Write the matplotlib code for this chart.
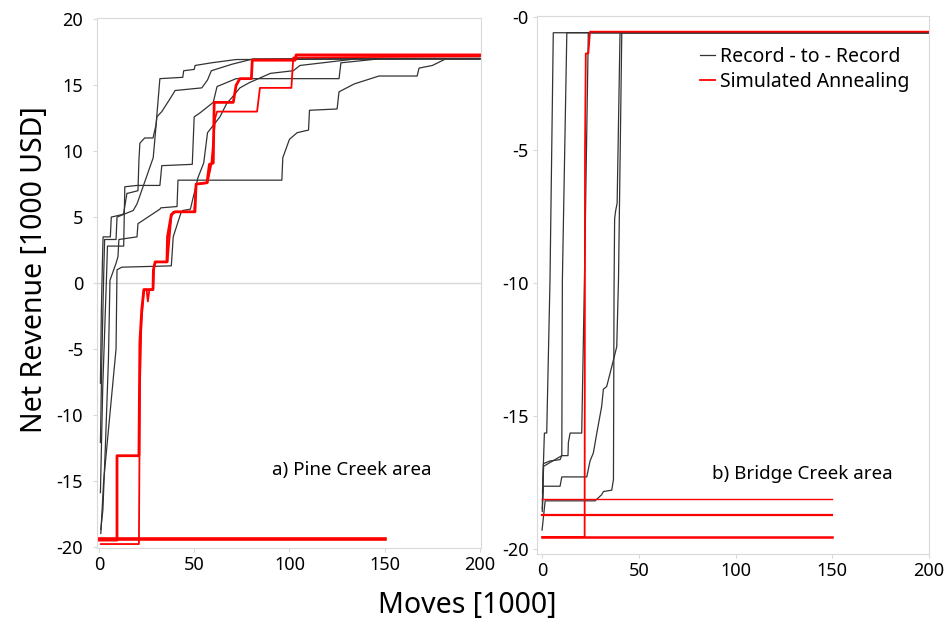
import numpy as np
import matplotlib
matplotlib.use("Agg")
import matplotlib.pyplot as plt

plt.rcParams['font.family'] = ['Noto Sans', 'DejaVu Sans']

# ---- a) Pine Creek: record-to-record runs (moves in 1000, revenue in 1000 USD)
pc_rr_x = [
    [0.8, 1.3, 2.0, 2.2, 6.0, 6.5, 12.5, 13.0, 14.7, 15.0, 20.5, 21.0, 21.5, 24.0, 28.4, 30.0, 32.0, 44.0, 44.5, 50.0, 50.5, 59.0, 72.0, 200],
    [0.8, 1.5, 2.5, 3.0, 9.0, 9.5, 18.0, 20.0, 28.0, 28.5, 30.4, 33.0, 37.0, 40.0, 54.0, 57.0, 59.0, 70.0, 81.0, 200],
    [0.8, 2.0, 4.0, 4.5, 13.0, 13.6, 20.0, 32.0, 33.0, 49.0, 50.0, 53.0, 60.0, 62.0, 72.0, 126.0, 127.0, 147.0, 200],
    [1.0, 2.1, 3.5, 5.0, 5.8, 9.0, 10.0, 10.5, 20.0, 20.5, 32.0, 32.5, 41.0, 41.5, 96.0, 96.5, 100.0, 104.0, 110.0, 110.5, 125.0, 126.0, 134.0, 147.0, 167.0, 168.0, 175.0, 182.0, 200],
    [1.0, 2.5, 9.0, 9.5, 12.0, 38.0, 39.0, 43.0, 44.0, 48.0, 52.0, 55.0, 57.0, 63.5, 67.0, 70.0, 74.0, 79.0, 90.0, 102.0, 105.5, 135.0, 200],
]
pc_rr_y = [
    [-7.6, -2.0, 2.5, 3.5, 3.5, 5.0, 5.2, 5.3, 6.8, 6.8, 7.0, 9.3, 10.6, 11.0, 11.0, 12.0, 15.5, 15.6, 16.1, 16.2, 16.5, 16.7, 16.95, 17.0],
    [-12.1, -6.0, 0.5, 3.3, 3.3, 5.0, 5.5, 6.0, 9.3, 9.5, 12.6, 13.0, 13.9, 14.6, 14.8, 15.4, 16.1, 16.6, 17.0, 17.05],
    [-15.9, -8.0, 0.5, 2.8, 2.8, 7.3, 7.4, 7.4, 8.9, 9.0, 12.6, 12.9, 13.7, 14.9, 15.5, 15.5, 16.7, 17.0, 17.0],
    [-18.7, -17.2, -12.0, -5.8, 0.2, 1.5, 2.0, 3.3, 3.5, 4.5, 5.6, 5.7, 5.8, 7.8, 7.8, 9.5, 10.9, 11.4, 11.6, 13.1, 13.2, 14.5, 15.1, 15.7, 15.7, 16.3, 16.5, 17.0, 17.0],
    [-19.0, -15.0, -5.0, 1.0, 1.2, 1.3, 3.5, 5.3, 5.5, 5.6, 8.0, 9.1, 11.4, 12.6, 13.6, 14.1, 14.8, 15.2, 15.9, 16.1, 16.5, 17.0, 17.0],
]
# simulated annealing runs
pc_sa_x = [
    [0, 9.5, 9.5, 21, 21.5, 22.5, 23.6, 28.4, 28.6, 29.5, 35.7, 36, 38, 40, 50.4, 51, 56.7, 58, 60, 60.5, 70.5, 72, 74, 80, 80.5, 103, 103.5, 200],
    [1, 21, 21.5, 22.3, 23.6, 25, 25.7, 26.5, 28.4, 29, 30, 36, 38, 39, 50, 51, 57, 59, 61, 62, 83, 84.5, 101, 102, 200],
    [0, 150],
]
pc_sa_y = [
    [-19.5, -19.5, -13.1, -13.1, -4.5, -2.0, -0.5, -0.5, 1.0, 1.6, 1.6, 3.5, 5.2, 5.4, 5.4, 7.5, 7.6, 9.0, 9.1, 13.7, 13.7, 15.0, 15.5, 15.5, 16.9, 16.9, 17.3, 17.3],
    [-19.8, -19.8, -8.0, -3.0, -0.5, -0.5, -1.4, -0.5, -0.5, 1.3, 1.6, 1.6, 5.0, 5.4, 5.4, 7.5, 7.6, 9.0, 12.5, 13.0, 13.0, 14.8, 14.8, 17.1, 17.2],
    [-19.45, -19.45],
]
pc_sa_lw = [2.0, 1.3, 2.6]

# ---- b) Bridge Creek
bc_rr_x = [
    [0.2, 0.7, 1.2, 2.4, 4.1, 5.8, 200],
    [0.1, 0.7, 4.1, 9.3, 10.2, 10.5, 12.8, 200],
    [0.2, 0.8, 10.2, 13.4, 13.6, 14.5, 20.5, 21.9, 23.9, 200],
    [0.1, 0.7, 9.3, 10.2, 23.1, 24.8, 26.5, 28.3, 30.8, 31.7, 33.4, 36.9, 38.6, 39.5, 41.2, 200],
    [0.0, 1.6, 27.4, 30.8, 31.7, 36.0, 36.9, 37.2, 37.5, 38.0, 38.8, 40.3, 200],
]
bc_rr_y = [
    [-17.9, -16.8, -15.65, -15.65, -9.9, -0.59, -0.59],
    [-18.5, -16.8, -16.7, -16.65, -16.5, -9.9, -0.59, -0.59],
    [-18.2, -16.9, -16.5, -16.5, -16.0, -15.65, -15.65, -9.9, -0.59, -0.59],
    [-18.6, -17.65, -17.65, -17.3, -17.3, -16.7, -16.4, -15.65, -14.65, -14.0, -13.9, -12.9, -12.4, -9.9, -0.59, -0.59],
    [-19.3, -18.2, -18.2, -17.97, -17.85, -17.8, -17.4, -10.3, -7.6, -7.3, -7.0, -0.59, -0.59],
]
bc_sa_x = [
    [0.2, 22.0, 22.2, 22.6, 23.9, 24.8, 200],
    [0.2, 150],
    [0.2, 150],
    [0.2, 150],
]
bc_sa_y = [
    [-19.56, -19.56, -5.0, -1.37, -1.37, -0.55, -0.55],
    [-18.13, -18.13],
    [-18.75, -18.75],
    [-19.56, -19.56],
]
bc_sa_lw = [1.3, 1.0, 1.6, 1.8]

left_yticks = [20, 15, 10, 5, 0, -5, -10, -15, -20]
left_ylabels = ['20', '15', '10', '5', '0', '-5', '-10', '-15', '-20']
right_yticks = [0, -5, -10, -15, -20]
right_ylabels = ['-0', '-5', '-10', '-15', '-20']
xticks = [0, 50, 100, 150, 200]

grey = '#d9d9d9'
black = '#333333'
red = '#ff0000'

fig = plt.figure(figsize=(9.5, 6.25), dpi=100)
ax1 = fig.add_axes([0.1021, 0.1232, 0.4042, 0.848])
ax2 = fig.add_axes([0.5653, 0.1136, 0.4126, 0.8608])

ax1.axhline(0, color=grey, lw=1, zorder=0)
for xs, ys in zip(pc_rr_x, pc_rr_y):
    ax1.plot(xs, ys, color=black, lw=0.9)
for xs, ys, lw in zip(pc_sa_x, pc_sa_y, pc_sa_lw):
    ax1.plot(xs, ys, color=red, lw=lw)

for i, (xs, ys) in enumerate(zip(bc_rr_x, bc_rr_y)):
    ax2.plot(xs, ys, color=black, lw=0.9, label='Record - to - Record' if i == 0 else None)
for i, (xs, ys, lw) in enumerate(zip(bc_sa_x, bc_sa_y, bc_sa_lw)):
    ax2.plot(xs, ys, color=red, lw=lw, label='Simulated Annealing' if i == 0 else None)

ax1.set_xlim(-1, 200.5)
ax1.set_ylim(-20.1, 20.1)
ax1.set_yticks(left_yticks)
ax1.set_yticklabels(left_ylabels)
ax2.set_xlim(-2.6, 200)
ax2.set_ylim(-20.2, 0.04)
ax2.set_yticks(right_yticks)
ax2.set_yticklabels(right_ylabels)

for ax in (ax1, ax2):
    ax.set_xticks(xticks)
    for sp in ax.spines.values():
        sp.set_color(grey)
    ax.tick_params(color=grey, length=3, labelsize=13, labelcolor='black', pad=3)
ax1.tick_params(axis='y', pad=7)

ax1.text(91, -14.2, 'a) Pine Creek area', fontsize=13.5, va='center')
ax2.text(88, -17.2, 'b) Bridge Creek area', fontsize=13.5, va='center')

ax2.legend(loc='upper right', bbox_to_anchor=(0.995, 0.975), frameon=False,
           fontsize=14, handlelength=0.8, handletextpad=0.25, labelspacing=0.25)

fig.text(35 / 950, 1 - 270 / 625, 'Net Revenue [1000 USD]', fontsize=20.5,
         rotation=90, ha='center', va='center')
fig.text(467 / 950, 1 - 605 / 625, 'Moves [1000]', fontsize=20.5, ha='center', va='center')

fig.savefig('out.png', dpi=100)
